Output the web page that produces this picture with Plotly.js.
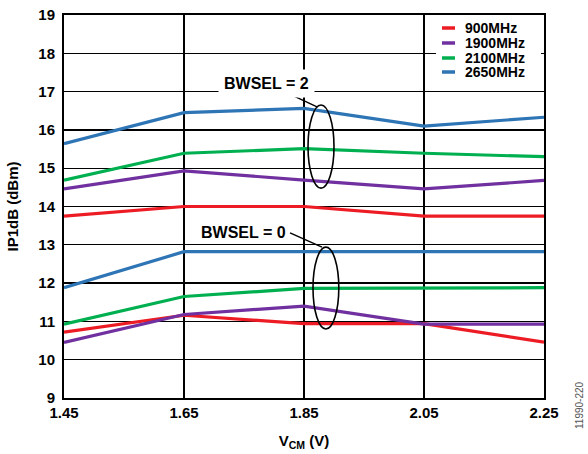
<!DOCTYPE html>
<html>
<head>
<meta charset="utf-8">
<script src="https://cdn.plot.ly/plotly-3.0.1.min.js"></script>
<style>html,body{margin:0;padding:0;background:#fff;}#chart{width:588px;height:454px;}</style>
</head>
<body>
<div id="chart"></div>
<script>
// V_CM sweep (V)
const vcm = [1.45, 1.65, 1.85, 2.05, 2.25];
const tickLabels = ["1.45", "1.65", "1.85", "2.05", "2.25"];
const seriesNames = ["900MHz", "1900MHz", "2100MHz", "2650MHz"];
const seriesColors = ["#ED1C24", "#7030A0", "#00B050", "#2E75B6"];

// BWSEL = 2
const bw2_900  = [13.75, 14.00, 14.00, 13.75, 13.75];
const bw2_1900 = [14.46, 14.93, 14.69, 14.46, 14.68];
const bw2_2100 = [14.69, 15.39, 15.51, 15.39, 15.30];
const bw2_2650 = [15.64, 16.45, 16.56, 16.10, 16.33];

// BWSEL = 0
const bw0_900  = [10.72, 11.16, 10.94, 10.94, 10.46];
const bw0_1900 = [10.45, 11.18, 11.40, 10.93, 10.93];
const bw0_2100 = [10.93, 11.65, 11.86, 11.87, 11.88];
const bw0_2650 = [11.88, 12.82, 12.82, 12.82, 12.82];

const bw2 = [bw2_900, bw2_1900, bw2_2100, bw2_2650];
const bw0 = [bw0_900, bw0_1900, bw0_2100, bw0_2650];

const FONT = "'Liberation Sans', Arial, sans-serif";

const traces = [];
[bw0, bw2].forEach((group) => {
  group.forEach((vals, i) => {
    traces.push({
      x: vcm, y: vals, type: "scatter", mode: "lines",
      name: seriesNames[i], showlegend: false,
      line: {color: seriesColors[i], width: 3.2},
      hoverinfo: "skip"
    });
  });
});

// helpers: convert plot-pixel positions to paper coords
const PL = 64, PR = 544, PT = 15, PB = 398;
const px = v => (v - PL) / (PR - PL);
const py = v => (PB - v) / (PB - PT);

const shapes = [
  {type: "circle", xref: "x", yref: "y", x0: 1.8567, x1: 1.900, y0: 14.48, y1: 16.65,
   line: {color: "#000", width: 1.6}, layer: "above"},
  {type: "line", xref: "x", yref: "y", x0: 1.8183, y0: 16.99, x1: 1.8717, y1: 16.60,
   line: {color: "#000", width: 1.4}, layer: "above"},
  {type: "circle", xref: "x", yref: "y", x0: 1.865, x1: 1.908, y0: 10.80, y1: 12.94,
   line: {color: "#000", width: 1.6}, layer: "above"},
  {type: "line", xref: "x", yref: "y", x0: 1.8267, y0: 13.31, x1: 1.880, y1: 12.94,
   line: {color: "#000", width: 1.4}, layer: "above"},
  {type: "rect", xref: "paper", yref: "paper", x0: px(436), x1: px(541), y0: py(80), y1: py(20),
   fillcolor: "#fff", line: {width: 0}, layer: "above"}
];

const annotations = [
  {xref: "paper", yref: "paper", x: px(266), y: py(83), text: "<b>BWSEL = 2</b>", showarrow: false,
   xanchor: "center", yanchor: "middle", bgcolor: "#fff", borderpad: 5,
   font: {family: FONT, size: 16, color: "#000"}},
  {xref: "paper", yref: "paper", x: px(243), y: py(233), text: "<b>BWSEL = 0</b>", showarrow: false,
   xanchor: "center", yanchor: "middle",
   font: {family: FONT, size: 16, color: "#000"}},
  {xref: "paper", yref: "paper", x: px(579), y: py(405), text: "11990-220", showarrow: false,
   textangle: -90, xanchor: "center", yanchor: "middle",
   font: {family: FONT, size: 10, color: "#555"}}
];

const legendRows = [28, 43, 58, 72];
seriesNames.forEach((n, i) => {
  shapes.push({type: "line", xref: "paper", yref: "paper", x0: px(442), x1: px(455),
    y0: py(legendRows[i]), y1: py(legendRows[i]), line: {color: seriesColors[i], width: 3.5}, layer: "above"});
  annotations.push({xref: "paper", yref: "paper", x: px(463), y: py(legendRows[i]), text: "<b>" + n + "</b>",
    showarrow: false, xanchor: "left", yanchor: "middle",
    font: {family: FONT, size: 14, color: "#000"}});
});

const layout = {
  width: 588, height: 454,
  margin: {l: PL, r: 588 - PR, t: PT, b: 454 - PB, pad: 0},
  paper_bgcolor: "#fff", plot_bgcolor: "#fff",
  showlegend: false,
  font: {family: FONT, color: "#000"},
  xaxis: {
    range: [1.45, 2.25], tickmode: "array", tickvals: vcm, ticktext: tickLabels.map(t => "<b>" + t + "</b>"),
    showgrid: true, gridcolor: "#000", gridwidth: 1.3,
    showline: true, linecolor: "#000", linewidth: 2, mirror: true,
    ticks: "", zeroline: false,
    tickfont: {family: FONT, size: 15, color: "#000"},
    title: {text: "<b>V<sub>CM</sub> (V)</b>", standoff: 15,
            font: {family: FONT, size: 15, color: "#000"}}
  },
  yaxis: {
    range: [9, 19], dtick: 1, tick0: 9,
    showgrid: true, gridcolor: "#000", gridwidth: 1.3,
    showline: true, linecolor: "#000", linewidth: 2, mirror: true,
    ticks: "", zeroline: false, ticklabelstandoff: 4,
    tickfont: {family: FONT, size: 15, color: "#000"},
    tickprefix: "<b>", ticksuffix: "</b>",
    title: {text: "<b>IP1dB (dBm)</b>", standoff: 16,
            font: {family: FONT, size: 15, color: "#000"}}
  },
  shapes: shapes,
  annotations: annotations
};

Plotly.newPlot("chart", traces, layout, {displayModeBar: false, staticPlot: true});
</script>
</body>
</html>
